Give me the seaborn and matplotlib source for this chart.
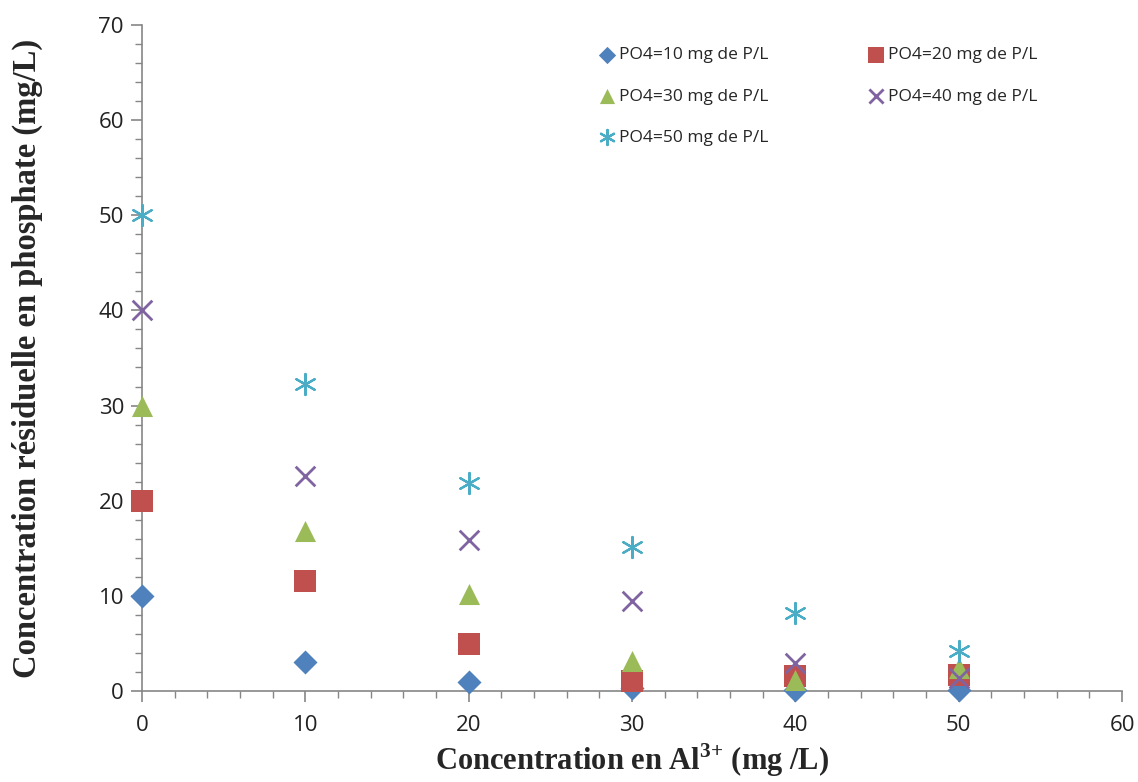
import matplotlib
matplotlib.use("Agg")
import matplotlib.pyplot as plt
import seaborn as sns
from matplotlib.ticker import MultipleLocator

# Al3+ dose (mg/L)
al_dose = [0, 10, 20, 30, 40, 50]

# residual phosphate (mg/L) for each initial PO4 concentration
po4_10 = [10.0, 3.0, 0.9, 0.3, 0.1, 0.1]
po4_20 = [20.0, 11.6, 4.9, 1.0, 1.6, 1.7]
po4_30 = [30.0, 16.8, 10.2, 3.1, 1.2, 2.4]
po4_40 = [40.0, 22.6, 15.9, 9.5, 2.9, 1.4]
po4_50 = [50.0, 32.3, 21.9, 15.1, 8.2, 4.2]

labels = ["PO4=10 mg de P/L", "PO4=20 mg de P/L", "PO4=30 mg de P/L",
          "PO4=40 mg de P/L", "PO4=50 mg de P/L"]
colors = ["#4F81BD", "#C0504D", "#9BBB59", "#8064A2", "#4BACC6"]
markers = ["D", "s", "^", "x", (6, 2, 0)]
sizes = [150, 260, 230, 200, 230]

sns.set_theme(style="white")
plt.rcParams["font.family"] = ["Open Sans", "DejaVu Sans"]
plt.rcParams["mathtext.fontset"] = "custom"
plt.rcParams["mathtext.rm"] = "Liberation Serif:bold"
plt.rcParams["mathtext.bf"] = "Liberation Serif:bold"

fig = plt.figure(figsize=(11.38, 7.82), dpi=100)
ax = fig.add_axes([0.1248, 0.1164, 0.8612, 0.8517])

series = [po4_10, po4_20, po4_30, po4_40, po4_50]
for vals, lab, col, mk, sz in zip(series, labels, colors, markers, sizes):
    line_art = mk == "x" or isinstance(mk, tuple)
    sns.scatterplot(x=al_dose, y=vals, ax=ax, color=col, marker=mk, s=sz,
                    linewidth=(1.6 if isinstance(mk, tuple) else 2) if line_art else 0,
                    edgecolor=None if line_art else col,
                    label=lab, clip_on=False, zorder=3)

ax.set_xlim(0, 60)
ax.set_ylim(0, 70)
ax.xaxis.set_major_locator(MultipleLocator(10))
ax.xaxis.set_minor_locator(MultipleLocator(2))
ax.yaxis.set_major_locator(MultipleLocator(10))
ax.yaxis.set_minor_locator(MultipleLocator(2))

for side in ["top", "right"]:
    ax.spines[side].set_visible(False)
for side in ["left", "bottom"]:
    ax.spines[side].set_color("#868686")
    ax.spines[side].set_linewidth(1.2)

ax.tick_params(which="both", direction="out", color="#868686", bottom=True, left=True)
ax.tick_params(which="major", length=8, width=1.2, labelsize=16, pad=5, labelcolor="#222222")
ax.tick_params(which="minor", length=5, width=1)
ax.tick_params(axis="x", pad=9)

ax.set_xlabel(r"Concentration en Al$^{\mathbf{3}\mathbf{{+}}}$ (mg /L)", fontsize=22,
              family="Liberation Serif", fontweight="bold", labelpad=4)
ax.set_ylabel("Concentration résiduelle en phosphate (mg/L)", fontsize=23.5,
              family="Liberation Serif", fontweight="bold", labelpad=40)

# row-wise legend order like the original
h, l = ax.get_legend_handles_labels()
order = [0, 2, 4, 1, 3]
ax.legend([h[i] for i in order], [l[i] for i in order],
          loc="upper right", bbox_to_anchor=(0.93, 0.99), ncol=2, frameon=False,
          fontsize=12.5, markerscale=0.72, labelspacing=1.45, columnspacing=5.6,
          handletextpad=0.1, handlelength=1.2)

fig.savefig("out.png", dpi=100)
